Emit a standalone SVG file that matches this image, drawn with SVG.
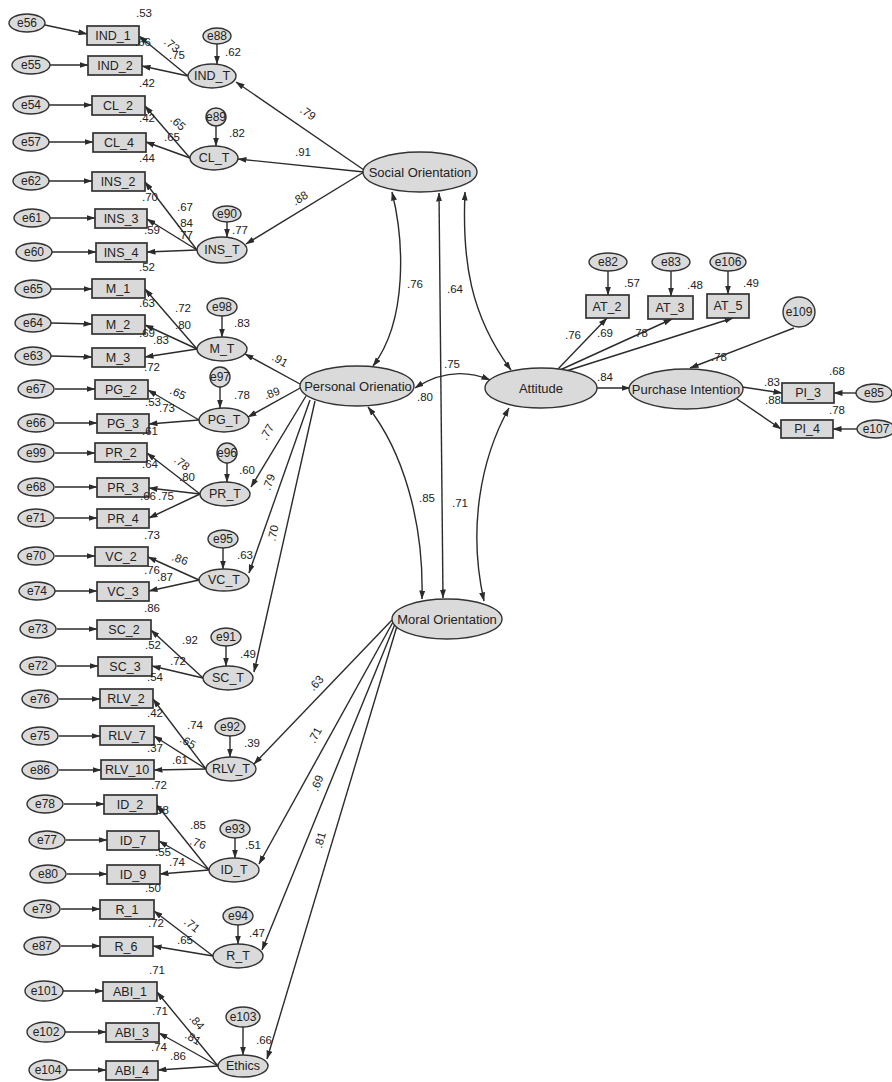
<svg xmlns="http://www.w3.org/2000/svg" width="892" height="1082" viewBox="0 0 892 1082">
<defs>
<marker id="ah" markerUnits="userSpaceOnUse" markerWidth="9" markerHeight="6" refX="8.5" refY="3" orient="auto"><path d="M0,0 L9,3 L0,6 z" fill="#2b2b2b"/></marker>
<marker id="as" markerUnits="userSpaceOnUse" markerWidth="9" markerHeight="6" refX="8.5" refY="3" orient="auto-start-reverse"><path d="M0,0 L9,3 L0,6 z" fill="#2b2b2b"/></marker>
<style>
text{font-family:"Liberation Sans",Arial,sans-serif;fill:#222}
.b{fill:#d9d9d9;stroke:#333;stroke-width:1.7}
.el{fill:#dadada;stroke:#333;stroke-width:1.4}
.t{font-size:12.5px;text-anchor:middle}
.s{font-size:13px;text-anchor:middle}
.e{font-size:12px;text-anchor:middle}
.n{font-size:11.5px;text-anchor:middle}
.c path{fill:none;stroke:#2b2b2b;stroke-width:1.4;marker-end:url(#ah)}
.c path.cv{marker-start:url(#as);marker-end:url(#as)}
</style>
</defs>
<rect width="892" height="1082" fill="#fff"/>
<g id="connectors" class="c">
<path d="M45,25 L87,34"/><path d="M50,65 L88,65"/><path d="M49,105 L92,105"/><path d="M49,142 L93,142"/>
<path d="M49,181 L92,181"/><path d="M50,218 L95,218"/><path d="M52,252 L96,252"/>
<path d="M51,289 L92,289"/><path d="M51,323 L92,324"/><path d="M51,356 L92,357"/>
<path d="M55,389 L95,389"/><path d="M55,423 L97,423"/>
<path d="M55,453 L95,453"/><path d="M55,487 L97,487"/><path d="M55,518 L97,518"/>
<path d="M55,556 L95,556"/><path d="M55,591 L97,591"/>
<path d="M57,629 L97,629"/><path d="M57,666 L98,666"/>
<path d="M59,699 L100,699"/><path d="M59,736 L100,736"/><path d="M59,770 L101,770"/>
<path d="M64,804 L104,804"/><path d="M66,840 L107,840"/><path d="M67,874 L107,874"/>
<path d="M61,909 L100,909"/><path d="M61,946 L100,946"/>
<path d="M63,991 L103,991"/><path d="M65,1032 L106,1032"/><path d="M67,1070 L106,1070"/>
<path d="M217,44 L217,64"/><path d="M216,126 L216,146"/><path d="M227,222 L227,237"/>
<path d="M222,316 L222,337"/><path d="M220,387 L220,408"/><path d="M227,463 L227,482"/>
<path d="M223,548 L223,569"/><path d="M226,646 L226,666"/><path d="M230,736 L230,757"/>
<path d="M235,838 L235,858"/><path d="M238,925 L238,944"/><path d="M243,1027 L243,1055"/>
<path d="M188,76 L139,36"/><path d="M188,76 L142,66"/>
<path d="M190,158 L145,106"/><path d="M190,158 L146,142"/>
<path d="M197,250 L145,182"/><path d="M197,250 L147,219"/><path d="M197,250 L147,252"/>
<path d="M197,349 L145,289"/><path d="M197,349 L145,325"/><path d="M197,349 L145,357"/>
<path d="M199,420 L148,390"/><path d="M199,420 L149,424"/>
<path d="M200,494 L147,453"/><path d="M200,494 L149,488"/><path d="M200,494 L149,518"/>
<path d="M199,580 L148,557"/><path d="M199,580 L149,591"/>
<path d="M203,678 L151,630"/><path d="M203,678 L152,666"/>
<path d="M206,769 L153,699"/><path d="M206,769 L154,736"/><path d="M206,769 L154,770"/>
<path d="M209,870 L157,805"/><path d="M209,870 L159,841"/><path d="M209,870 L160,874"/>
<path d="M213,956 L154,911"/><path d="M213,956 L153,946"/>
<path d="M218,1066 L157,992"/><path d="M218,1066 L159,1033"/><path d="M218,1066 L158,1070"/>
<path d="M364,170 L236,82"/><path d="M364,172 L238,159"/><path d="M364,172 L246,244"/>
<path d="M300,384 L245,354"/><path d="M302,387 L248,417"/><path d="M306,396 L251,487"/>
<path d="M310,400 L249,573"/><path d="M315,401 L254,672"/>
<path d="M392,620 L254,764"/><path d="M393,622 L259,864"/><path d="M395,624 L262,950"/><path d="M397,626 L267,1059"/>
<path class="cv" d="M392,192 C404,240 408,320 373,366"/>
<path class="cv" d="M465,192 C462,260 470,315 511,370"/>
<path class="cv" d="M415,388 Q452,364 490,380"/>
<path class="cv" d="M439,193 L443,598"/>
<path class="cv" d="M368,407 C402,450 424,520 422,599"/>
<path class="cv" d="M509,408 C480,460 468,530 484,601"/>
<path d="M597,388 L630,388"/>
<path d="M558,369 L607,318"/><path d="M560,370 L672,319"/><path d="M563,372 L733,318"/>
<path d="M608,271 L608,295"/><path d="M671,271 L671,296"/><path d="M728,271 L728,294"/>
<path d="M794,328 L690,368"/>
<path d="M742,387 L782,393"/><path d="M737,399 L781,429"/>
<path d="M856,393 L834,393"/><path d="M857,429 L833,429"/>
</g>
<g id="n-SO"><ellipse class="el" cx="420" cy="172" rx="57" ry="20"/><text class="s" x="420" y="177">Social  Orientation</text></g>
<g id="n-PO"><ellipse class="el" cx="357" cy="386" rx="57" ry="20"/><text class="s" x="358" y="391">Personal Orienatio</text></g>
<g id="n-MO"><ellipse class="el" cx="447" cy="619" rx="55" ry="20"/><text class="s" x="447" y="624">Moral  Orientation</text></g>
<g id="n-ATT"><ellipse class="el" cx="541" cy="388" rx="56" ry="20"/><text class="s" x="541" y="393">Attitude</text></g>
<g id="n-PI"><ellipse class="el" cx="686" cy="389" rx="57" ry="20"/><text class="s" x="686" y="394">Purchase Intention</text></g>
<g id="n-IND_T"><ellipse class="el" cx="212" cy="76" rx="24" ry="12"/><text class="t" x="212" y="80">IND_T</text></g>
<g id="n-CL_T"><ellipse class="el" cx="214" cy="158" rx="24" ry="12"/><text class="t" x="214" y="162">CL_T</text></g>
<g id="n-INS_T"><ellipse class="el" cx="222" cy="250" rx="25" ry="13"/><text class="t" x="222" y="254">INS_T</text></g>
<g id="n-M_T"><ellipse class="el" cx="222" cy="349" rx="25" ry="12"/><text class="t" x="222" y="353">M_T</text></g>
<g id="n-PG_T"><ellipse class="el" cx="224" cy="420" rx="25" ry="12"/><text class="t" x="224" y="424">PG_T</text></g>
<g id="n-PR_T"><ellipse class="el" cx="225" cy="494" rx="25" ry="12"/><text class="t" x="225" y="498">PR_T</text></g>
<g id="n-VC_T"><ellipse class="el" cx="224" cy="580" rx="25" ry="11"/><text class="t" x="224" y="584">VC_T</text></g>
<g id="n-SC_T"><ellipse class="el" cx="228" cy="678" rx="25" ry="12"/><text class="t" x="228" y="682">SC_T</text></g>
<g id="n-RLV_T"><ellipse class="el" cx="231" cy="769" rx="25" ry="12"/><text class="t" x="231" y="773">RLV_T</text></g>
<g id="n-ID_T"><ellipse class="el" cx="234" cy="870" rx="25" ry="12"/><text class="t" x="234" y="874">ID_T</text></g>
<g id="n-R_T"><ellipse class="el" cx="238" cy="956" rx="25" ry="12"/><text class="t" x="238" y="960">R_T</text></g>
<g id="n-Ethics"><ellipse class="el" cx="243" cy="1066" rx="25" ry="11"/><text class="t" x="243" y="1070">Ethics</text></g>
<g id="n-e88"><ellipse class="el" cx="217" cy="36" rx="14" ry="8"/><text class="e" x="217" y="40">e88</text></g>
<g id="n-e89"><ellipse class="el" cx="216" cy="117" rx="10" ry="9"/><text class="e" x="216" y="121">e89</text></g>
<g id="n-e90"><ellipse class="el" cx="227" cy="214" rx="14" ry="8"/><text class="e" x="227" y="218">e90</text></g>
<g id="n-e98"><ellipse class="el" cx="222" cy="307" rx="15" ry="9"/><text class="e" x="222" y="311">e98</text></g>
<g id="n-e97"><ellipse class="el" cx="220" cy="377" rx="10" ry="10"/><text class="e" x="220" y="381">e97</text></g>
<g id="n-e96"><ellipse class="el" cx="227" cy="453" rx="10" ry="10"/><text class="e" x="227" y="457">e96</text></g>
<g id="n-e95"><ellipse class="el" cx="223" cy="539" rx="15" ry="9"/><text class="e" x="223" y="543">e95</text></g>
<g id="n-e91"><ellipse class="el" cx="226" cy="637" rx="15" ry="9"/><text class="e" x="226" y="641">e91</text></g>
<g id="n-e92"><ellipse class="el" cx="230" cy="727" rx="15" ry="9"/><text class="e" x="230" y="731">e92</text></g>
<g id="n-e93"><ellipse class="el" cx="235" cy="829" rx="15" ry="9"/><text class="e" x="235" y="833">e93</text></g>
<g id="n-e94"><ellipse class="el" cx="238" cy="916" rx="15" ry="9"/><text class="e" x="238" y="920">e94</text></g>
<g id="n-e103"><ellipse class="el" cx="243" cy="1017" rx="17" ry="10"/><text class="e" x="243" y="1021">e103</text></g>
<g id="n-IND_1"><rect class="b" x="87" y="26" width="52" height="19"/><text class="t" x="113" y="40">IND_1</text></g>
<g id="n-IND_2"><rect class="b" x="88" y="56" width="54" height="19"/><text class="t" x="115" y="70">IND_2</text></g>
<g id="n-CL_2"><rect class="b" x="92" y="96" width="53" height="19"/><text class="t" x="118" y="110">CL_2</text></g>
<g id="n-CL_4"><rect class="b" x="93" y="133" width="53" height="19"/><text class="t" x="119" y="147">CL_4</text></g>
<g id="n-INS_2"><rect class="b" x="92" y="172" width="53" height="19"/><text class="t" x="118" y="186">INS_2</text></g>
<g id="n-INS_3"><rect class="b" x="95" y="209" width="52" height="19"/><text class="t" x="121" y="223">INS_3</text></g>
<g id="n-INS_4"><rect class="b" x="96" y="243" width="51" height="19"/><text class="t" x="121" y="257">INS_4</text></g>
<g id="n-M_1"><rect class="b" x="92" y="279" width="53" height="19"/><text class="t" x="118" y="293">M_1</text></g>
<g id="n-M_2"><rect class="b" x="92" y="315" width="53" height="19"/><text class="t" x="118" y="329">M_2</text></g>
<g id="n-M_3"><rect class="b" x="92" y="348" width="53" height="19"/><text class="t" x="118" y="362">M_3</text></g>
<g id="n-PG_2"><rect class="b" x="95" y="380" width="53" height="19"/><text class="t" x="121" y="394">PG_2</text></g>
<g id="n-PG_3"><rect class="b" x="97" y="414" width="52" height="19"/><text class="t" x="123" y="428">PG_3</text></g>
<g id="n-PR_2"><rect class="b" x="95" y="443" width="52" height="19"/><text class="t" x="121" y="457">PR_2</text></g>
<g id="n-PR_3"><rect class="b" x="97" y="478" width="52" height="19"/><text class="t" x="123" y="492">PR_3</text></g>
<g id="n-PR_4"><rect class="b" x="97" y="509" width="52" height="19"/><text class="t" x="123" y="523">PR_4</text></g>
<g id="n-VC_2"><rect class="b" x="95" y="547" width="53" height="19"/><text class="t" x="121" y="561">VC_2</text></g>
<g id="n-VC_3"><rect class="b" x="97" y="582" width="52" height="19"/><text class="t" x="123" y="596">VC_3</text></g>
<g id="n-SC_2"><rect class="b" x="97" y="620" width="54" height="19"/><text class="t" x="124" y="634">SC_2</text></g>
<g id="n-SC_3"><rect class="b" x="98" y="657" width="54" height="19"/><text class="t" x="125" y="671">SC_3</text></g>
<g id="n-RLV_2"><rect class="b" x="100" y="689" width="53" height="19"/><text class="t" x="126" y="703">RLV_2</text></g>
<g id="n-RLV_7"><rect class="b" x="100" y="726" width="54" height="19"/><text class="t" x="127" y="740">RLV_7</text></g>
<g id="n-RLV_10"><rect class="b" x="101" y="760" width="53" height="19"/><text class="t" x="127" y="774">RLV_10</text></g>
<g id="n-ID_2"><rect class="b" x="104" y="795" width="53" height="19"/><text class="t" x="130" y="809">ID_2</text></g>
<g id="n-ID_7"><rect class="b" x="107" y="831" width="52" height="19"/><text class="t" x="133" y="845">ID_7</text></g>
<g id="n-ID_9"><rect class="b" x="107" y="865" width="53" height="19"/><text class="t" x="133" y="879">ID_9</text></g>
<g id="n-R_1"><rect class="b" x="100" y="900" width="54" height="19"/><text class="t" x="127" y="914">R_1</text></g>
<g id="n-R_6"><rect class="b" x="100" y="937" width="53" height="19"/><text class="t" x="126" y="951">R_6</text></g>
<g id="n-ABI_1"><rect class="b" x="103" y="982" width="54" height="19"/><text class="t" x="130" y="996">ABI_1</text></g>
<g id="n-ABI_3"><rect class="b" x="106" y="1023" width="53" height="19"/><text class="t" x="132" y="1037">ABI_3</text></g>
<g id="n-ABI_4"><rect class="b" x="106" y="1061" width="52" height="19"/><text class="t" x="132" y="1075">ABI_4</text></g>
<g id="n-AT_2"><rect class="b" x="586" y="295" width="43" height="23"/><text class="t" x="607" y="311">AT_2</text></g>
<g id="n-AT_3"><rect class="b" x="648" y="296" width="45" height="23"/><text class="t" x="670" y="312">AT_3</text></g>
<g id="n-AT_5"><rect class="b" x="707" y="294" width="42" height="24"/><text class="t" x="728" y="310">AT_5</text></g>
<g id="n-PI_3"><rect class="b" x="782" y="383" width="52" height="20"/><text class="t" x="808" y="397">PI_3</text></g>
<g id="n-PI_4"><rect class="b" x="781" y="420" width="52" height="18"/><text class="t" x="807" y="433">PI_4</text></g>
<g id="n-e56"><ellipse class="el" cx="27" cy="23" rx="18" ry="9"/><text class="e" x="27" y="27">e56</text></g>
<g id="n-e55"><ellipse class="el" cx="31" cy="65" rx="19" ry="9"/><text class="e" x="31" y="69">e55</text></g>
<g id="n-e54"><ellipse class="el" cx="31" cy="105" rx="18" ry="9"/><text class="e" x="31" y="109">e54</text></g>
<g id="n-e57"><ellipse class="el" cx="31" cy="142" rx="18" ry="9"/><text class="e" x="31" y="146">e57</text></g>
<g id="n-e62"><ellipse class="el" cx="31" cy="181" rx="18" ry="9"/><text class="e" x="31" y="185">e62</text></g>
<g id="n-e61"><ellipse class="el" cx="32" cy="218" rx="18" ry="9"/><text class="e" x="32" y="222">e61</text></g>
<g id="n-e60"><ellipse class="el" cx="34" cy="252" rx="18" ry="9"/><text class="e" x="34" y="256">e60</text></g>
<g id="n-e65"><ellipse class="el" cx="33" cy="289" rx="18" ry="9"/><text class="e" x="33" y="293">e65</text></g>
<g id="n-e64"><ellipse class="el" cx="33" cy="323" rx="18" ry="9"/><text class="e" x="33" y="327">e64</text></g>
<g id="n-e63"><ellipse class="el" cx="33" cy="356" rx="18" ry="9"/><text class="e" x="33" y="360">e63</text></g>
<g id="n-e67"><ellipse class="el" cx="36" cy="389" rx="18" ry="9"/><text class="e" x="36" y="393">e67</text></g>
<g id="n-e66"><ellipse class="el" cx="36" cy="423" rx="18" ry="9"/><text class="e" x="36" y="427">e66</text></g>
<g id="n-e99"><ellipse class="el" cx="36" cy="453" rx="18" ry="9"/><text class="e" x="36" y="457">e99</text></g>
<g id="n-e68"><ellipse class="el" cx="36" cy="487" rx="18" ry="9"/><text class="e" x="36" y="491">e68</text></g>
<g id="n-e71"><ellipse class="el" cx="36" cy="518" rx="18" ry="9"/><text class="e" x="36" y="522">e71</text></g>
<g id="n-e70"><ellipse class="el" cx="36" cy="556" rx="18" ry="9"/><text class="e" x="36" y="560">e70</text></g>
<g id="n-e74"><ellipse class="el" cx="37" cy="591" rx="18" ry="9"/><text class="e" x="37" y="595">e74</text></g>
<g id="n-e73"><ellipse class="el" cx="38" cy="629" rx="18" ry="9"/><text class="e" x="38" y="633">e73</text></g>
<g id="n-e72"><ellipse class="el" cx="38" cy="666" rx="18" ry="9"/><text class="e" x="38" y="670">e72</text></g>
<g id="n-e76"><ellipse class="el" cx="40" cy="699" rx="18" ry="9"/><text class="e" x="40" y="703">e76</text></g>
<g id="n-e75"><ellipse class="el" cx="40" cy="736" rx="18" ry="9"/><text class="e" x="40" y="740">e75</text></g>
<g id="n-e86"><ellipse class="el" cx="40" cy="770" rx="18" ry="9"/><text class="e" x="40" y="774">e86</text></g>
<g id="n-e78"><ellipse class="el" cx="45" cy="804" rx="18" ry="9"/><text class="e" x="45" y="808">e78</text></g>
<g id="n-e77"><ellipse class="el" cx="47" cy="840" rx="18" ry="9"/><text class="e" x="47" y="844">e77</text></g>
<g id="n-e80"><ellipse class="el" cx="48" cy="874" rx="18" ry="9"/><text class="e" x="48" y="878">e80</text></g>
<g id="n-e79"><ellipse class="el" cx="42" cy="909" rx="18" ry="9"/><text class="e" x="42" y="913">e79</text></g>
<g id="n-e87"><ellipse class="el" cx="42" cy="946" rx="18" ry="9"/><text class="e" x="42" y="950">e87</text></g>
<g id="n-e101"><ellipse class="el" cx="44" cy="991" rx="19" ry="10"/><text class="e" x="44" y="995">e101</text></g>
<g id="n-e102"><ellipse class="el" cx="46" cy="1032" rx="19" ry="10"/><text class="e" x="46" y="1036">e102</text></g>
<g id="n-e104"><ellipse class="el" cx="48" cy="1070" rx="19" ry="10"/><text class="e" x="48" y="1074">e104</text></g>
<g id="n-e82"><ellipse class="el" cx="608" cy="262" rx="19" ry="9"/><text class="e" x="608" y="266">e82</text></g>
<g id="n-e83"><ellipse class="el" cx="671" cy="262" rx="19" ry="9"/><text class="e" x="671" y="266">e83</text></g>
<g id="n-e106"><ellipse class="el" cx="728" cy="262" rx="18" ry="9"/><text class="e" x="728" y="266">e106</text></g>
<g id="n-e109"><ellipse class="el" cx="799" cy="312" rx="16" ry="15"/><text class="e" x="799" y="316">e109</text></g>
<g id="n-e85"><ellipse class="el" cx="874" cy="393" rx="18" ry="9"/><text class="e" x="874" y="397">e85</text></g>
<g id="n-e107"><ellipse class="el" cx="876" cy="429" rx="19" ry="9"/><text class="e" x="876" y="433">e107</text></g>
<g id="labels" class="n">
<text x="144" y="17">.53</text><text x="143" y="46">.66</text>
<text x="172" y="49" transform="rotate(40 172 45)">.73</text><text x="177" y="59">.75</text><text x="233" y="56">.62</text>
<text x="147" y="87">.42</text><text x="147" y="122">.42</text>
<text x="178" y="127" transform="rotate(42 178 123)">.65</text><text x="172" y="141">.65</text><text x="237" y="137">.82</text>
<text x="147" y="162">.44</text><text x="150" y="201">.70</text><text x="185" y="211">.67</text><text x="185" y="227">.84</text>
<text x="185" y="239">.77</text><text x="152" y="234">.59</text><text x="240" y="234">.77</text><text x="147" y="271">.52</text>
<text x="308" y="117" transform="rotate(35 308 113)">.79</text><text x="303" y="156">.91</text>
<text x="300" y="202" transform="rotate(-32 300 198)">.88</text>
<text x="183" y="312">.72</text><text x="147" y="307">.63</text><text x="242" y="327">.83</text><text x="183" y="329">.80</text>
<text x="147" y="337">.69</text><text x="161" y="344">.83</text><text x="152" y="371">.72</text>
<text x="280" y="364" transform="rotate(30 280 360)">.91</text>
<text x="178" y="397" transform="rotate(25 178 393)">.65</text><text x="242" y="399">.78</text>
<text x="272" y="397" transform="rotate(-20 272 393)">.89</text>
<text x="153" y="406">.53</text><text x="167" y="412">.73</text><text x="150" y="435">.61</text>
<text x="267" y="436" transform="rotate(-60 267 432)">.77</text>
<text x="150" y="468">.64</text><text x="182" y="467" transform="rotate(38 182 463)">.78</text><text x="187" y="481">.80</text>
<text x="247" y="474">.60</text><text x="269" y="486" transform="rotate(-70 269 482)">.79</text>
<text x="148" y="500">.66</text><text x="166" y="500">.75</text>
<text x="152" y="539">.73</text><text x="273" y="537" transform="rotate(-78 273 533)">.70</text>
<text x="180" y="563" transform="rotate(20 180 559)">.86</text><text x="245" y="559">.63</text>
<text x="152" y="574">.76</text><text x="165" y="581">.87</text><text x="152" y="612">.86</text>
<text x="190" y="644">.92</text><text x="153" y="649">.52</text><text x="248" y="658">.49</text><text x="178" y="665">.72</text>
<text x="155" y="681">.54</text><text x="155" y="717">.42</text><text x="195" y="729">.74</text><text x="252" y="747">.39</text>
<text x="188" y="746" transform="rotate(30 188 742)">.65</text><text x="155" y="752">.37</text><text x="180" y="764">.61</text>
<text x="159" y="789">.72</text>
<text x="316" y="687" transform="rotate(-47 316 683)">.63</text>
<text x="315" y="739" transform="rotate(-62 315 735)">.71</text>
<text x="317" y="787" transform="rotate(-68 317 783)">.69</text>
<text x="320" y="844" transform="rotate(-74 320 840)">.81</text>
<text x="161" y="814">.58</text><text x="198" y="829">.85</text><text x="253" y="849">.51</text>
<text x="198" y="847" transform="rotate(20 198 843)">.76</text><text x="163" y="856">.55</text><text x="177" y="866">.74</text>
<text x="153" y="892">.50</text><text x="156" y="927">.72</text>
<text x="192" y="929" transform="rotate(40 192 925)">.71</text><text x="257" y="937">.47</text><text x="185" y="944">.65</text>
<text x="157" y="974">.71</text><text x="160" y="1015">.71</text>
<text x="197" y="1026" transform="rotate(50 197 1022)">.84</text>
<text x="193" y="1042" transform="rotate(30 193 1038)">.81</text>
<text x="264" y="1044">.66</text><text x="159" y="1051">.74</text><text x="178" y="1060">.86</text>
<text x="415" y="288">.76</text><text x="455" y="293">.64</text><text x="452" y="368">.75</text><text x="425" y="401">.80</text>
<text x="427" y="502">.85</text><text x="460" y="507">.71</text>
<text x="573" y="339">.76</text><text x="605" y="337">.69</text><text x="640" y="337">.78</text>
<text x="632" y="287">.57</text><text x="695" y="289">.48</text><text x="751" y="287">.49</text>
<text x="719" y="361">.78</text><text x="605" y="381">.84</text>
<text x="772" y="386">.83</text><text x="773" y="404">.88</text><text x="837" y="375">.68</text><text x="837" y="414">.78</text>
</g>
</svg>
